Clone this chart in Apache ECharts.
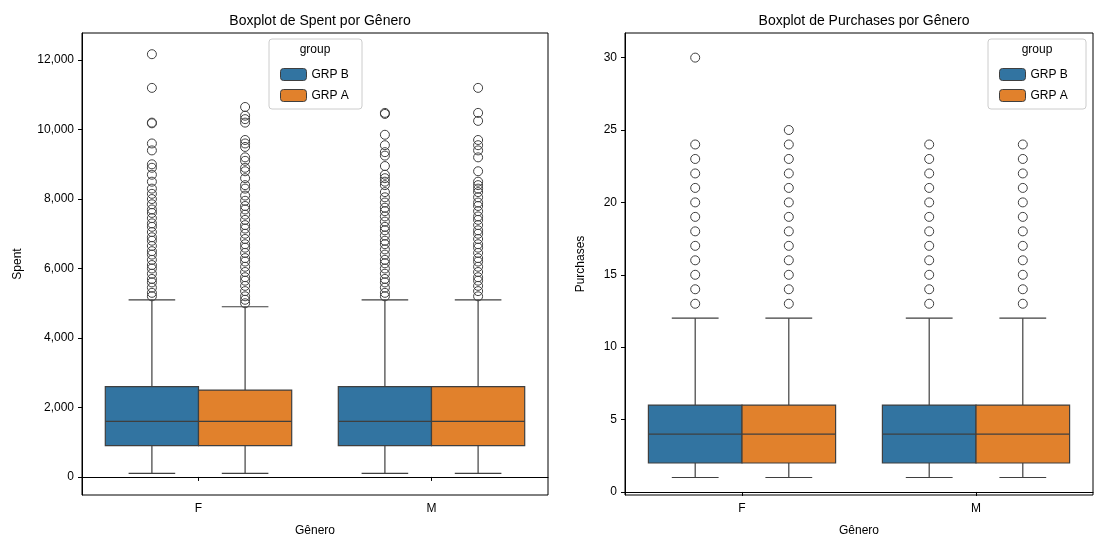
<!DOCTYPE html>
<html>
<head>
<meta charset="utf-8">
<script src="https://cdn.jsdelivr.net/npm/echarts@6/dist/echarts.min.js"></script>
<style>html,body{margin:0;background:#fff}#main{width:1119px;height:548px}</style>
</head>
<body>
<div id="main"></div>
<script>
var generos = ['F', 'M'];
var grupos = ['GRP B', 'GRP A'];
// [low, q1, median, q3, high] per genero
var spentB = [[100, 900, 1600, 2600, 5100], [100, 900, 1600, 2600, 5100]];
var spentA = [[100, 900, 1600, 2500, 4900], [100, 900, 1600, 2600, 5100]];
var purchB = [[1, 2, 4, 6, 12], [1, 2, 4, 6, 12]];
var purchA = [[1, 2, 4, 6, 12], [1, 2, 4, 6, 12]];
// outliers
var spentOutB = [
    [12170, 11200, 10200, 10180, 9600, 9400, 9000, 8900, 8700, 8500, 8300, 8150, 8000, 7850, 7700, 7600, 7450, 7300, 7200, 7050, 6900, 6800, 6650, 6500, 6400, 6250, 6100, 6000, 5850, 5700, 5600, 5450, 5300, 5200],
    [10480, 10450, 9850, 9550, 9350, 9250, 8950, 8700, 8600, 8500, 8400, 8200, 8050, 7900, 7750, 7650, 7500, 7350, 7200, 7100, 6950, 6800, 6700, 6550, 6400, 6250, 6150, 6000, 5850, 5700, 5600, 5450, 5300, 5200]
];
var spentOutA = [
    [10650, 10400, 10300, 10200, 9700, 9600, 9500, 9200, 9100, 8900, 8800, 8600, 8400, 8300, 8100, 7950, 7800, 7700, 7550, 7400, 7250, 7150, 7000, 6850, 6700, 6600, 6450, 6300, 6200, 6050, 5900, 5750, 5650, 5500, 5350, 5200, 5100, 5000],
    [11200, 10480, 10250, 9700, 9550, 9400, 9200, 8800, 8500, 8400, 8300, 8200, 8050, 7900, 7800, 7650, 7500, 7400, 7250, 7100, 7000, 6850, 6700, 6600, 6450, 6300, 6200, 6050, 5900, 5750, 5650, 5500, 5350, 5200]
];
var purchOutB = [
    [13, 14, 15, 16, 17, 18, 19, 20, 21, 22, 23, 24, 30],
    [13, 14, 15, 16, 17, 18, 19, 20, 21, 22, 23, 24]
];
var purchOutA = [
    [13, 14, 15, 16, 17, 18, 19, 20, 21, 22, 23, 24, 25],
    [13, 14, 15, 16, 17, 18, 19, 20, 21, 22, 23, 24]
];
var spentTicks = [0, 2000, 4000, 6000, 8000, 10000, 12000];
var purchTicks = [0, 5, 10, 15, 20, 25, 30];

var cores = ['#3274a1', '#e1812c'];
var borda = '#3f3f3f';

function boxItems(stats) {
    return stats.map(function (s, i) { return [i].concat(s); });
}
function outItems(outs) {
    var r = [];
    outs.forEach(function (lst, i) {
        lst.forEach(function (v) { r.push([i, v]); });
    });
    return r;
}

function renderBox(off) {
    return function (params, api) {
        var c = api.coord([api.value(0), api.value(3)]);
        var band = api.size([1, 0])[0];
        var w = band * 0.4;
        var cx = c[0] + off * band;
        var yl = api.coord([0, api.value(1)])[1];
        var y1 = api.coord([0, api.value(2)])[1];
        var ym = c[1];
        var y3 = api.coord([0, api.value(4)])[1];
        var yh = api.coord([0, api.value(5)])[1];
        var st = {stroke: borda, lineWidth: 1.2};
        var cw = w / 4;
        return {
            type: 'group', children: [
                {type: 'line', shape: {x1: cx, y1: y3, x2: cx, y2: yh}, style: st},
                {type: 'line', shape: {x1: cx, y1: y1, x2: cx, y2: yl}, style: st},
                {type: 'line', shape: {x1: cx - cw, y1: yh, x2: cx + cw, y2: yh}, style: st},
                {type: 'line', shape: {x1: cx - cw, y1: yl, x2: cx + cw, y2: yl}, style: st},
                {type: 'rect', shape: {x: cx - w / 2, y: y3, width: w, height: y1 - y3},
                    style: {fill: api.visual('color'), stroke: borda, lineWidth: 1.2}},
                {type: 'line', shape: {x1: cx - w / 2, y1: ym, x2: cx + w / 2, y2: ym}, style: st}
            ]
        };
    };
}
function renderOut(off) {
    return function (params, api) {
        var c = api.coord([api.value(0), api.value(1)]);
        var band = api.size([1, 0])[0];
        return {
            type: 'circle', shape: {cx: c[0] + off * band, cy: c[1], r: 4.5},
            style: {fill: 'none', stroke: borda, lineWidth: 1}
        };
    };
}

function seriesFor(gi, statsB, statsA, outB, outA) {
    var s = [];
    [[statsB, outB, -0.2], [statsA, outA, 0.2]].forEach(function (g, k) {
        s.push({type: 'custom', name: grupos[k], xAxisIndex: gi, yAxisIndex: gi,
            itemStyle: {color: cores[k]}, renderItem: renderBox(g[2]),
            encode: {x: 0, y: [1, 2, 3, 4, 5]}, data: boxItems(g[0]), z: 2});
        s.push({type: 'custom', name: grupos[k], xAxisIndex: gi, yAxisIndex: gi,
            itemStyle: {color: cores[k]}, renderItem: renderOut(g[2]),
            encode: {x: 0, y: 1}, data: outItems(g[1]), z: 3});
    });
    return s;
}

function yAxisFor(gi, name, min, max, ticks, nameGap) {
    return {
        type: 'value', gridIndex: gi, min: min, max: max, name: name,
        nameLocation: 'middle', nameGap: nameGap,
        nameTextStyle: {color: '#000', fontSize: 12},
        splitLine: {show: false},
        axisLine: {show: true, lineStyle: {color: '#000'}},
        axisTick: {show: true, length: 4, lineStyle: {color: '#000'}, customValues: ticks},
        axisLabel: {color: '#000', fontSize: 12, customValues: ticks}
    };
}
function xAxisFor(gi) {
    return {
        type: 'category', gridIndex: gi, data: generos, name: 'Gênero',
        nameLocation: 'middle', nameGap: 30,
        nameTextStyle: {color: '#000', fontSize: 12},
        axisLine: {show: true, lineStyle: {color: '#000'}},
        axisTick: {show: true, alignWithLabel: true, length: 4, lineStyle: {color: '#000'}},
        axisLabel: {color: '#000', fontSize: 12, margin: 8}
    };
}

var chart = echarts.init(document.getElementById('main'));
var legendBase = {
    orient: 'vertical', itemWidth: 26, itemHeight: 12, itemGap: 8,
    textStyle: {color: '#000', fontSize: 12}, data: grupos, selectedMode: false,
    itemStyle: {borderColor: borda, borderWidth: 1}
};
chart.setOption({
    animation: false,
    title: [
        {text: 'Boxplot de Spent por Gênero', left: 315, top: 9, textAlign: 'center',
            textStyle: {fontSize: 14, fontWeight: 'normal', color: '#000'}},
        {text: 'Boxplot de Purchases por Gênero', left: 859, top: 9, textAlign: 'center',
            textStyle: {fontSize: 14, fontWeight: 'normal', color: '#000'}}
    ],
    grid: [
        {left: 82, right: 571, top: 33, bottom: 53, show: true, borderColor: '#000', borderWidth: 1},
        {left: 625, right: 26, top: 33, bottom: 53, show: true, borderColor: '#000', borderWidth: 1}
    ],
    legend: [
        Object.assign({left: 275, top: 63}, legendBase),
        Object.assign({left: 994, top: 63}, legendBase)
    ],
    graphic: [
        {type: 'rect', shape: {x: 269, y: 39, width: 93, height: 70, r: 3}, z: 0,
            style: {fill: 'rgba(255,255,255,0.8)', stroke: '#ccc'}},
        {type: 'text', x: 315, y: 44, style: {text: 'group', fontSize: 12, fill: '#000', align: 'center'}},
        {type: 'rect', shape: {x: 988, y: 39, width: 98, height: 70, r: 3}, z: 0,
            style: {fill: 'rgba(255,255,255,0.8)', stroke: '#ccc'}},
        {type: 'text', x: 1037, y: 44, style: {text: 'group', fontSize: 12, fill: '#000', align: 'center'}}
    ],
    xAxis: [xAxisFor(0), xAxisFor(1)],
    yAxis: [
        yAxisFor(0, 'Spent', -520, 12780, spentTicks, 58),
        yAxisFor(1, 'Purchases', -0.21, 31.7, purchTicks, 38)
    ],
    series: seriesFor(0, spentB, spentA, spentOutB, spentOutA)
        .concat(seriesFor(1, purchB, purchA, purchOutB, purchOutA))
});
</script>
</body>
</html>
